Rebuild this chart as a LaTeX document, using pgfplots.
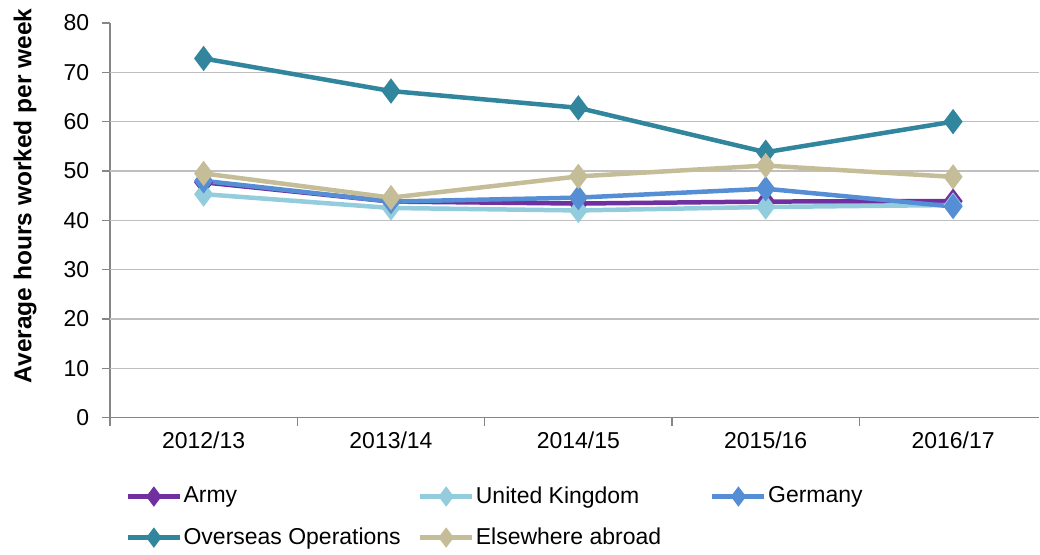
\documentclass[border=0pt]{standalone}
\usepackage{fontspec}
\setmainfont{Liberation Sans}
\usepackage{pgfplots}
\pgfplotsset{compat=1.18}
\definecolor{army}{HTML}{7030A0}
\definecolor{uk}{HTML}{93CDDD}
\definecolor{germany}{HTML}{558ED5}
\definecolor{overseas}{HTML}{31859C}
\definecolor{elsewhere}{HTML}{C4BD97}
\definecolor{axisgray}{HTML}{868686}
\definecolor{gridgray}{HTML}{BFBFBF}
\begin{document}
\fontsize{23pt}{27pt}\selectfont
\begin{tikzpicture}
\begin{axis}[
  scale only axis, width=930pt, height=395pt,
  xmin=-0.5, xmax=4.46, ymin=0, ymax=80,
  axis lines*=left,
  axis line style={draw=axisgray, line width=1.5pt},
  tick align=outside, major tick length=8pt,
  tick style={draw=axisgray, line width=1.5pt},
  xtick={-0.5,0.5,1.5,2.5,3.5}, xticklabels={},
  extra x ticks={0,1,2,3,4},
  extra x tick labels={2012/13,2013/14,2014/15,2015/16,2016/17},
  extra x tick style={major tick length=0pt, tick style={draw=none}, xticklabel style={yshift=-6pt}},
  ytick={0,10,...,80},
  yticklabel style={xshift=-5pt},
  extra y ticks={10,20,30,40,50,60,70}, extra y tick labels={},
  extra y tick style={grid=major, major grid style={draw=gridgray, line width=1.5pt}, tick style={draw=none}},
  ticklabel style={font=\fontsize{23pt}{27pt}\selectfont},
  /pgf/number format/assume math mode=true,
  ylabel={Average hours worked per week},
  ylabel style={font=\fontsize{24.5pt}{28pt}\selectfont\bfseries, at={(axis description cs:-0.0914,0.562)}, anchor=center},
  clip=false,
  legend columns=3,
  legend cell align=left,
  legend style={draw=none, fill=none, at={(axis description cs:0.0167,-0.170)}, anchor=north west,
    inner sep=0pt, row sep=18pt, column sep=0pt, nodes={inner sep=1.5pt},
    font=\fontsize{23pt}{27pt}\selectfont},
  legend image code/.code={\draw[mark repeat=2,mark phase=2,#1,mark size=6.5pt] plot coordinates {(0pt,0pt)(26pt,0pt)(52pt,0pt)};},
  every axis plot/.append style={line width=4.5pt, mark=diamond*, mark size=9pt, mark options={solid}},
]
\addplot[color=army] coordinates {(0,47.7) (1,43.8) (2,43.4) (3,43.8) (4,43.9)};
\addlegendentry{\makebox[233pt][l]{Army}}
\addplot[color=uk] coordinates {(0,45.3) (1,42.5) (2,42.0) (3,42.7) (4,43.1)};
\addlegendentry{\makebox[233pt][l]{United Kingdom}}
\addplot[color=germany] coordinates {(0,48.0) (1,43.8) (2,44.6) (3,46.4) (4,42.8)};
\addlegendentry{\makebox[233pt][l]{Germany}}
\addplot[color=overseas] coordinates {(0,72.8) (1,66.2) (2,62.8) (3,53.8) (4,60.0)};
\addlegendentry{\makebox[233pt][l]{Overseas Operations}}
\addplot[color=elsewhere] coordinates {(0,49.5) (1,44.6) (2,48.9) (3,51.1) (4,48.8)};
\addlegendentry{\makebox[233pt][l]{Elsewhere abroad}}
\path (axis description cs:-0.1183,-0.3468) rectangle (axis description cs:1,1.0582);
\end{axis}
\end{tikzpicture}
\end{document}
